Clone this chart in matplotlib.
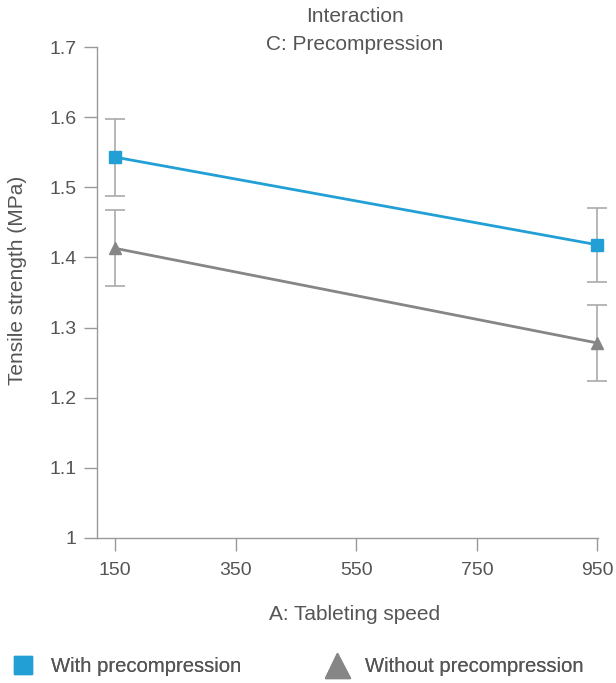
import numpy as np
import matplotlib
matplotlib.use('Agg')
import matplotlib.pyplot as plt
from matplotlib.lines import Line2D

plt.rcParams['font.family'] = ['Liberation Sans', 'DejaVu Sans']

# dados
speed = [150, 950]
with_pre = [1.543, 1.418]
with_pre_err = [0.055, 0.053]
without_pre = [1.413, 1.278]
without_pre_err = [0.054, 0.054]

x_ticks = [150, 350, 550, 750, 950]
y_ticks = [1, 1.1, 1.2, 1.3, 1.4, 1.5, 1.6, 1.7]
y_labels = ['1', '1.1', '1.2', '1.3', '1.4', '1.5', '1.6', '1.7']

blue = '#22a0d6'
grey = '#868686'
err_c = '#aaaaaa'
txt_c = '#555555'
axis_c = '#999999'

fig = plt.figure(figsize=(6.16, 6.83), dpi=100)
ax = fig.add_axes([97 / 616, 145 / 683, 501 / 616, 491 / 683])

for vals, errs in [(with_pre, with_pre_err), (without_pre, without_pre_err)]:
    eb = ax.errorbar(speed, vals, yerr=errs, fmt='none', ecolor=err_c,
                     elinewidth=1.2, capsize=7.5, capthick=1.2, zorder=1)
    for art in eb.get_children():
        art.set_clip_on(False)
ax.plot(speed, with_pre, color=blue, lw=2, marker='s', ms=8.5, zorder=3, clip_on=False)
ax.plot(speed, without_pre, color=grey, lw=2, marker='^', ms=9, zorder=3, clip_on=False)

ax.set_xlim(120, 951)
ax.set_ylim(1, 1.7)
ax.set_xticks(x_ticks)
ax.set_yticks(y_ticks)
ax.set_yticklabels(y_labels)
for s in ['top', 'right']:
    ax.spines[s].set_visible(False)
for s in ['left', 'bottom']:
    ax.spines[s].set_color(axis_c)
    ax.spines[s].set_linewidth(1)
ax.tick_params(colors=axis_c, labelcolor=txt_c, labelsize=14, length=9.5, width=1)
ax.tick_params(axis='x', pad=8)
ax.tick_params(axis='y', pad=5)

fig.text(355 / 616, 1 - 17 / 683, 'Interaction', ha='center', va='center',
         fontsize=15, color=txt_c)
fig.text(355 / 616, 1 - 44 / 683, 'C: Precompression', ha='center', va='center',
         fontsize=15, color=txt_c)
fig.text(355 / 616, 1 - 614 / 683, 'A: Tableting speed', ha='center', va='center',
         fontsize=15, color=txt_c)
fig.text(18 / 616, 1 - 280 / 683, 'Tensile strength (MPa)', ha='center', va='center',
         rotation=90, fontsize=15, color=txt_c)

leg_items = [('With precompression', 's', 13, blue, 11),
             ('Without precompression', '^', 18, grey, 325)]
for label, mk, size, col, xpx in leg_items:
    h = Line2D([], [], ls='none', marker=mk, ms=size, color=col)
    lg = fig.legend([h], [label], loc='center left',
                    bbox_to_anchor=(xpx / 616, 1 - 667 / 683),
                    frameon=False, fontsize=14.6, labelcolor=txt_c,
                    handlelength=1.2, handletextpad=0.75,
                    borderaxespad=0, borderpad=0)
    fig.add_artist(lg)

fig.savefig('out.png', dpi=100)
